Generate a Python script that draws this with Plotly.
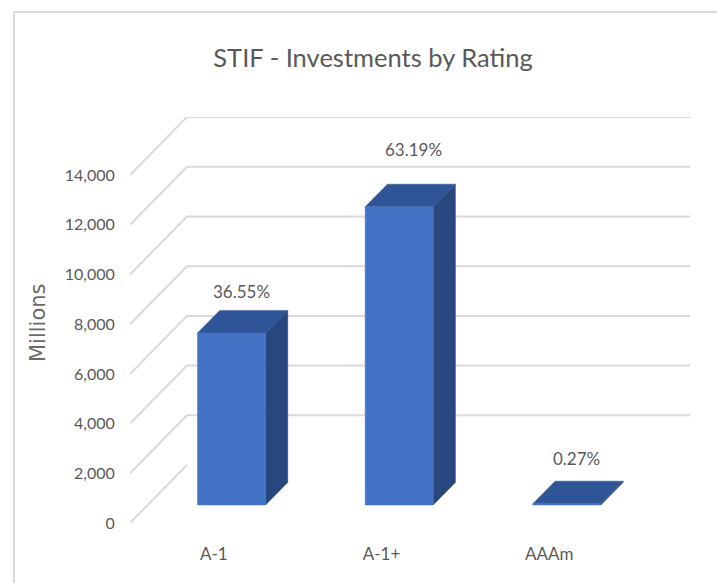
import plotly.graph_objects as go

categories = ["A-1", "A-1+", "AAAm"]
values = [6920, 12000, 51]
percent_labels = ["36.55%", "63.19%", "0.27%"]
y_ticks = [0, 2000, 4000, 6000, 8000, 10000, 12000, 14000]
y_tick_labels = ["0", "2,000", "4,000", "6,000", "8,000", "10,000", "12,000", "14,000"]
label_lift_px = [19, 35, 23]
label_shift_px = [-12, -8, -13]

W, H = 717, 583
L, R, T, B = 130, 690, 117, 523
PX_PER_CAT = 167.67
PX_PER_UNIT = 24.85 / 1000
DEPTH_X = 57 / PX_PER_CAT
DEPTH_Y = 58 / PX_PER_UNIT
BAR_W = 68 / PX_PER_CAT
D0, D1 = 0.31, 0.70
XMIN = -0.5
XMAX = XMIN + (R - L) / PX_PER_CAT
YMAX = (B - T) / PX_PER_UNIT
XBACK_END = XMAX

GRID = "#d9d9d9"
FRONT, TOP, SIDE = "#4472c4", "#2f5597", "#29477f"
TEXT = "#595959"
FONT = "Lato"

fig = go.Figure()

for v in y_ticks:
    if v == 0:
        xs = [XMIN, XMIN + DEPTH_X]
        ys = [0, DEPTH_Y]
    else:
        xs = [XMIN, XMIN + DEPTH_X, XBACK_END]
        ys = [v, v + DEPTH_Y, v + DEPTH_Y]
    fig.add_trace(go.Scatter(x=xs, y=ys, mode="lines", line=dict(color=GRID, width=2),
                             hoverinfo="skip", showlegend=False, cliponaxis=False))


def poly(xs, ys, color):
    fig.add_trace(go.Scatter(x=xs + xs[:1], y=ys + ys[:1], mode="lines", fill="toself",
                             fillcolor=color, line=dict(color=color, width=0.5),
                             hoverinfo="skip", showlegend=False, cliponaxis=False))


for i, v in enumerate(values):
    x0 = i - BAR_W / 2 + D0 * DEPTH_X
    x1 = x0 + BAR_W
    sx = (D1 - D0) * DEPTH_X
    sy = (D1 - D0) * DEPTH_Y
    base = D0 * DEPTH_Y
    poly([x1, x1 + sx, x1 + sx, x1], [base, base + sy, base + sy + v, base + v], SIDE)
    poly([x0, x1, x1 + sx, x0 + sx], [base + v, base + v, base + v + sy, base + v + sy], TOP)
    poly([x0, x1, x1, x0], [base, base, base + v, base + v], FRONT)
    fig.add_annotation(x=(x0 + x1) / 2 + sx, y=base + v + sy, text=percent_labels[i],
                       xref="x", yref="y", showarrow=False, yshift=label_lift_px[i],
                       xshift=label_shift_px[i],
                       font=dict(family=FONT, size=17, color=TEXT))

fig.update_xaxes(range=[XMIN, XMAX], tickmode="array", tickvals=list(range(len(categories))),
                 ticktext=categories, showgrid=False, zeroline=False, showline=False,
                 ticks="outside", ticklen=16, tickcolor="rgba(0,0,0,0)",
                 tickfont=dict(family=FONT, size=17, color=TEXT))
fig.update_yaxes(range=[0, YMAX], tickmode="array", tickvals=y_ticks, ticktext=y_tick_labels,
                 showgrid=False, zeroline=False, showline=False,
                 ticks="outside", ticklen=11, tickcolor="rgba(0,0,0,0)",
                 tickfont=dict(family=FONT, size=16, color=TEXT))

fig.add_shape(type="line", xref="paper", yref="paper", x0=(14 - L) / (R - L), x1=(W - L) / (R - L),
              y0=(B - 12) / (B - T), y1=(B - 12) / (B - T), line=dict(color=GRID, width=2))
fig.add_shape(type="line", xref="paper", yref="paper", x0=(14 - L) / (R - L), x1=(14 - L) / (R - L),
              y0=(B - 12) / (B - T), y1=(B - H) / (B - T), line=dict(color=GRID, width=2))

fig.add_annotation(text="Millions", xref="paper", yref="paper", textangle=-90, showarrow=False,
                   x=(38 - L) / (R - L), y=(B - 323) / (B - T), xanchor="center", yanchor="middle",
                   font=dict(family="DejaVu Sans", size=21, color="#6a6a6a"))

fig.update_layout(
    width=W, height=H, autosize=False,
    margin=dict(l=L, r=W - R, t=T, b=H - B, pad=0),
    paper_bgcolor="white", plot_bgcolor="white", showlegend=False,
    title=dict(text="STIF - Investments by Rating", x=373 / W, xanchor="center",
               y=1 - 58 / H, yanchor="middle", font=dict(family=FONT, size=25.5, color=TEXT)),
)

fig.write_html("out.html", config=dict(displayModeBar=False),
               post_script="document.body.style.margin='0';document.documentElement.style.overflow='hidden';")
